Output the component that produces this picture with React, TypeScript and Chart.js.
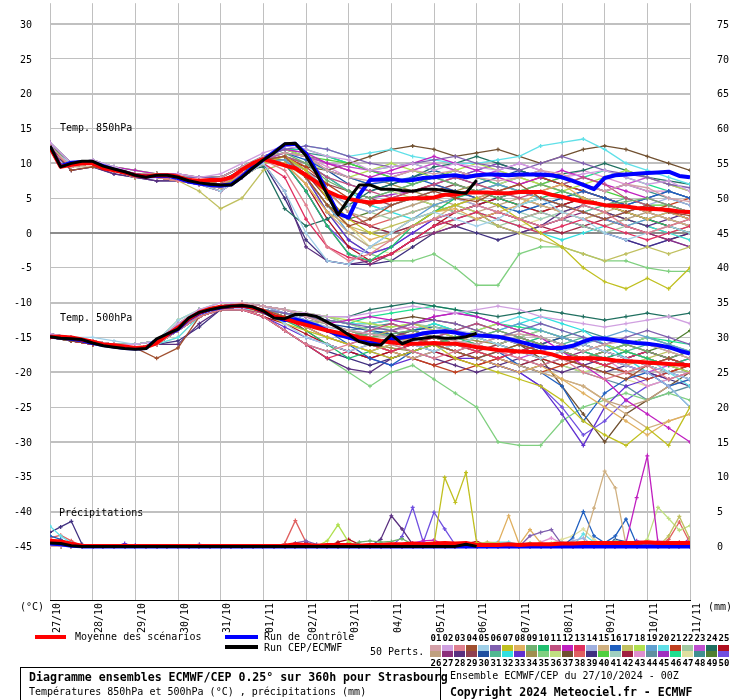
import React, { useEffect, useRef } from 'react';
import { Chart, registerables } from 'chart.js';
Chart.register(...registerables);

// ---------- axes / labels ----------
const dayLabels = ['27/10','28/10','29/10','30/10','31/10','01/11','02/11','03/11','04/11','05/11','06/11','07/11','08/11','09/11','10/11','11/11'];
const tempTicks = [30,25,20,15,10,5,0,-5,-10,-15,-20,-25,-30,-35,-40,-45];
const PRECIP_ZERO = -45; // 0 mm sits on the -45 °C line (right axis = left + 45)
const memberNumbers = ['01','02','03','04','05','06','07','08','09','10','11','12','13','14','15','16','17','18','19','20','21','22','23','24','25','26','27','28','29','30','31','32','33','34','35','36','37','38','39','40','41','42','43','44','45','46','47','48','49','50'];
const memberColors = ['#d4a0a8','#d0a0e0','#e08090','#a05030','#a0d0e8','#8060b0','#c0c020','#e0b060','#70b070','#20c070','#c05080','#c020c0','#e03060','#a0b0e0','#d0b080','#2060c0','#c0c060','#b0e050','#60a0d0','#60e0e8','#c04020','#a0c8a0','#c050d0','#207060','#b01020','#c0a080','#8c2f7a','#5a3080','#904050','#2050a0','#50b890','#30e0e0','#6030d0','#a09050','#80d080','#c0e080','#705030','#e06060','#403080','#50d040','#a0d0c0','#a02040','#e090d0','#6090a0','#a030c0','#20e090','#e0e0a0','#409090','#508030','#7050e0'];

// ---------- 6-hourly main runs ----------
const mean850 = [12.3,9.5,9.8,10.0,10.0,9.3,9.0,8.7,8.3,8.1, 8.3,8.3,8.1,7.6,7.5,7.6,7.6,8.0,9.1,10.0, 10.6,10.2,9.7,9.3,8.3,7.3,6.0,5.3,4.9,4.6, 4.4,4.5,4.8,4.9,5.0,5.0,5.1,5.5,5.5,5.8, 5.8,5.8,5.7,5.7,5.9,5.9,5.9,5.5,5.2,4.8, 4.5,4.3,4.0,3.9,3.8,3.6,3.5,3.4,3.3,3.1, 3.0];
const ctrl850 = [12.4,9.6,10.1,10.2,10.1,9.6,9.1,8.7,8.3,8.1, 8.2,8.2,7.9,7.4,7.1,6.9,6.8,7.0,8.1,9.4, 10.5,11.6,12.7,12.8,11.4,8.8,5.8,2.8,2.2,5.5, 7.6,7.7,7.8,7.5,7.6,7.9,8.0,8.2,8.3,8.0, 8.3,8.4,8.4,8.3,8.4,8.4,8.4,8.3,8.0,7.5, 6.9,6.3,7.9,8.3,8.4,8.5,8.6,8.7,8.8,8.2, 8.0];
const cep850 = [12.5,9.5,10.0,10.3,10.3,9.6,9.2,8.8,8.3,8.0, 8.3,8.3,8.0,7.5,7.2,7.0,6.9,6.9,8.0,9.3, 10.5,11.5,12.8,12.9,11.1,8.5,5.5,2.6,4.9,6.9, 6.9,6.3,6.3,6.1,6.0,6.3,6.3,6.1,5.9,5.7, 7.6];
const mean500 = [-14.9,-14.9,-15.0,-15.3,-15.6,-16.0,-16.1,-16.3,-16.5,-16.4, -15.8,-14.6,-13.6,-12.3,-11.4,-10.9,-10.6,-10.5,-10.4,-10.7, -11.2,-12.0,-12.3,-12.8,-13.2,-13.6,-14.0,-14.3,-14.6,-15.0, -15.2,-15.5,-15.7,-15.9,-15.9,-15.9,-15.8,-15.9,-15.9,-16.1, -16.4,-16.6,-16.8,-16.9,-17.0,-17.1,-17.1,-17.4,-17.9,-18.0, -18.0,-18.0,-18.1,-18.3,-18.4,-18.5,-18.6,-18.7,-18.8,-18.9, -19.0];
const ctrl500 = [-14.9,-15.0,-15.2,-15.4,-15.8,-16.1,-16.3,-16.5,-16.6,-16.5, -15.4,-14.6,-13.8,-12.4,-11.5,-11.0,-10.7,-10.5,-10.5,-10.7, -11.3,-12.0,-12.5,-12.4,-12.8,-13.3,-14.0,-14.6,-15.0,-15.4, -15.8,-15.7,-15.2,-15.0,-14.8,-14.4,-14.2,-14.1,-14.3,-14.6, -14.7,-14.8,-14.9,-15.2,-15.6,-16.0,-16.4,-16.5,-16.5,-16.2, -15.6,-15.1,-15.2,-15.4,-15.6,-15.8,-15.9,-16.1,-16.4,-16.9, -17.3];
const cep500 = [-14.9,-15.1,-15.2,-15.3,-15.8,-16.2,-16.4,-16.6,-16.7,-16.6, -15.2,-14.5,-13.8,-12.2,-11.4,-11.0,-10.7,-10.5,-10.4,-10.6, -11.2,-12.2,-12.3,-11.7,-11.7,-12.0,-12.8,-13.6,-14.6,-15.6, -16.0,-16.1,-14.6,-15.9,-15.3,-15.1,-14.9,-15.1,-15.1,-14.9, -14.4];
const meanPrecip = [0.8,0.7,0.4,0.1,0.05,0.05,0.05,0.05,0.05,0.05, 0.05,0.05,0.05,0.05,0.05,0.05,0.05,0.05,0.05,0.05, 0.05,0.05,0.1,0.3,0.2,0.1,0.2,0.2,0.2,0.1, 0.2,0.2,0.3,0.3,0.4,0.3,0.4,0.5,0.4,0.5, 0.2,0.2,0.2,0.3,0.2,0.3,0.3,0.3,0.4,0.4, 0.5,0.5,0.5,0.5,0.5,0.5,0.6,0.5,0.5,0.5, 0.5];
const ctrlPrecip = [0.4,0.3,0.1,0,0,0,0,0,0,0, 0,0,0,0,0,0,0,0,0,0, 0,0,0,0,0,0,0,0,0,0, 0,0,0,0,0,0,0,0,0,0, 0,0,0,0,0,0,0,0,0,0, 0,0,0,0,0,0,0,0,0,0, 0];
const cepPrecip = [0.5,0.4,0.1,0,0,0,0,0,0,0, 0,0,0,0,0,0,0,0,0,0, 0,0,0,0,0,0,0,0,0,0, 0,0,0,0,0,0,0,0,0,0.3, 0];

// ---------- 12-hourly perturbations, 850 hPa ----------
const pert850: number[][] = [
[12.5,9.5,10,9,8.5,8.5,8,7.5,8,9.5,11,11.5,11,9,8,7.5,8,9,8.5,9,8,7.5,8,9,8.5,7,6,7,6.5,5,4.5],
[13,10,10.5,9.5,8.5,8,8.5,8,8.5,10,11.5,12.5,12,11,10.5,9,9.5,10,9,10,9.5,9,10,9,8,8.5,9,8,7,7.5,6],
[12,9.5,10,9,8,8,7.5,7,7,8.5,10.5,9,4,-2,-4,-3,-1,1,2,3,4,3,2,1,2,4,3,1,0,1,2],
[12.5,9,9.5,9,8.5,8.5,8,7.5,7,9,10.5,11,8,4,1,2,4,5,6,5,4.5,6,7,5,4,3,2,3,4,3,2.5],
[12,10,10.5,9.5,8.5,8,8,7,6,8,10,6,0,-4,-4.5,-2,0,2,3,2,1,2,4,5,3,2,0,-1,0,1,0],
[13,10,10,9,8.5,8,8,8,8,9.5,11,12,12.5,12,11,10,9.5,10,10.5,11,10,9.5,9,10,11,10,9,8.5,8,7,6.5],
[12.5,9.5,10,9,8,8,8,7.5,7,8,10,11,9,5,2,0,-1,1,3,4,5,4,2,0,-2,-5,-7,-8,-6.5,-8,-5],
[12,9.5,10,9,8,8,7.5,7,6.5,8.5,10.5,10,7,3,1,-1,0,2,3,3.5,2,3,4,6,7,5,4,3,2,3,2],
[12.5,10,10,9,8.5,8.5,8,8,8,9.5,11,11.5,10,7.5,6,5,6,7,8,7,6,5,6,7,6,5,4,4.5,5,4,3],
[12,9.5,10,9,8,8.5,8,7.5,7.5,9,10.5,10,6,1,-3,-4,-2,1,3,5,6,5,4,5,6,5,4,3,2,1,0],
[12.5,9.5,10,9,8.5,8,8,7.5,7,8.5,10.5,11,10,8,7,6,5,6,7,8,7,6,5,6,7,8,7,5,4,3,2],
[13,10,10.5,9.5,9,8.5,8.5,8,8,9.5,11,12,11.5,10,9,8,9,10,11,10,9,8,7,8,9,8,7,6,5,4,3],
[12,9.5,10,9,8,8,7.5,7,6,8,10,8,2,-2,-3.5,-4,-3,-1,1,2,3,2,1,0,1,2,1,0,-1,0,1],
[12.5,9.5,10,9,8,8,8,7.5,7.5,9,10.5,11,9,6,4,3,4,5,6,5,4,3,4,5,4,3,2,3,4,5,4],
[12,9.5,9.5,9,8,8,7.5,7,6.5,8.5,10,10,7,3,0,-2,-1,1,2,4,5,6,5,4,3,2,3,4,3,2,1],
[12.5,10,10,9,8.5,8,8,7.5,7.5,9,11,11.5,10.5,9,8,7,7.5,8,7,6,5,4,3,4,5,6,5,4,5,6,5],
[12,9.5,10,9,8,8,7.5,6,3.5,5,9,10,8,4,1,0,1,2,3,4,3,1,0,-1,-2,-3,-4,-3,-2,-3,-2],
[13,10,10.5,9.5,9,8.5,8.5,8,8,9.5,11,12,11,9,8,9,10,9,8,9,10,9,8,7,6,7,8,9,8,7,6],
[12.5,9.5,10,9,8.5,8,8,7.5,7,8.5,10.5,10.5,8,4,0,-2,0,2,4,5,6,7,6,5,4,3,2,1,2,3,2],
[12,9.5,10,9,8,8,8,7.5,7.5,9,11,12,12.5,12,11,11.5,12,11,10.5,10,10,10.5,11,12.5,13,13.5,12,10,9,8,7],
[12.5,10,10,9,8.5,8.5,8,7.5,7.5,9,10.5,11,9.5,7,5,4,5,6,7,6,5,6,7,8,7,6,5,4,3,4,5],
[12,9.5,10,9,8,8,7.5,7,6.5,8,10,10.5,9,6,4,3,2,3,4,3,2,1,2,3,2,1,0,1,2,3,2],
[12.5,9.5,10,9,8.5,8,8,7.5,7.5,9,10.5,11.5,11,10,9.5,9,8.5,9,10,9,8,9,10,9,8,7,6,7,8,7,6],
[13,10,10,9,8.5,8.5,8,7.5,7.5,9,9.5,3.5,1,2,4,6,7,8,9.5,10,11,10,9,8,8.5,9,10,9,8,7.5,7],
[12,9.5,10,9,8,8,7.5,7,7,8.5,10,10,7,2,-2,-4,-3,-1,1,3,4,5,4,3,4,5,4,3,2,1,0],
[12.5,9.5,10,9,8.5,8,8,7.5,7,8.5,10.5,11,9,6,3,2,3,4,5,4,3,4,5,4,3,2,1,2,3,2,1],
[12,9.5,10,9,8,8,7.5,7,6.5,8,10,10,6,1,-3,-4.5,-3,-1,0,1,2,3,2,1,2,3,2,1,0,-1,-2],
[12.5,9,9.5,8.5,8,7.5,7.5,7,6.5,8,10,6,-2,-4,-4.5,-4,-3,-1,1,2,3,1,0,1,3,4,3,2,1,2,3],
[12,9.5,10,9,8,8,7.5,7,7,8.5,10,10.5,9,7,6,5,4,5,6,7,6,5,4,3,4,5,4,3,2,1,2],
[12.5,10,10,9,8.5,8.5,8,8,8,9.5,11,12,11,9,7,6,7,8,9,8,7,8,9,8,7,6,5,4,5,6,5],
[12,9.5,10,9,8,8,8,7.5,7.5,9,10.5,11,10,8,6,5,6,7,8,9,8,7,6,5,4,3,4,5,4,3,2],
[12.5,9.5,10,9,8,8,7.5,7,7,8.5,10.5,11,10,8,6,4,3,2,3,4,3,2,1,0,-1,0,1,2,1,0,-1],
[12,9.5,10,9,8.5,8,8,7.5,7,8.5,10,10.5,8,3,-1,-3,-2,0,2,3,4,5,6,5,4,3,2,3,4,3,2],
[12.5,10,10,9,8.5,8.5,8,7.5,7.5,9,10.5,11.5,11,10,9,8,7,6,5,6,7,6,5,4,3,2,3,2,1,0,1],
[12,9.5,10,9,8,8,7.5,7,6.5,8.5,10,10,8,3,-1,-3,-4,-4,-3,-5,-7.5,-7.5,-3,-2,-2,-3,-4,-4,-5,-5.5,-5.5],
[12.5,9.5,10,9,8.5,8,8,7.5,7.5,9,10.5,11,10,9,8,7,6,5,4,5,6,7,8,7,6,5,4,3,2,3,2],
[12,9.5,10,9,8,8,7.5,7,7,8.5,10,10.5,9.5,9,10,11,12,12.5,12,11,11.5,12,11,10,11,12,12.5,12,11,10,9],
[12.5,9.5,10,9,8,8,8,7.5,7,8.5,10.5,11,9,6,3,1,2,3,4,5,4,3,2,3,4,3,2,1,0,1,0],
[12,9,9.5,8.5,8,7.5,7.5,7,6,8,10,5,-1,-4,-4.5,-4.5,-4,-2,0,1,0,-1,0,1,2,1,0,-1,-2,-1,0],
[12.5,10,10,9,8.5,8.5,8,8,8,9.5,11,11.5,11,10.5,10,9,8,7,8,9,8,7,6,7,8,7,6,5,4,4,3],
[12,9.5,10,9,8,8,7.5,7,7,8.5,10.5,11,10,7,5,4,3,4,5,6,5,4,3,2,3,4,3,2,3,4,3],
[12.5,9.5,10,9,8.5,8,8,7.5,7,9,10.5,10.5,8.5,5,2,1,0,1,2,1,2,3,2,1,0,1,2,1,0,-1,0],
[12,9.5,10,9,8,8,8,7.5,7.5,9,10.5,11.5,11,9.5,8,7,8,9,10,9,8,9,8,7,8,9,8,7,6,6,5],
[12.5,9.5,10,9,8,8,7.5,7,6.5,8,10,10.5,9,6,3,1,0,1,3,4,5,4,3,4,5,6,5,4,3,2,1],
[12,9.5,10,9,8.5,8,8,7.5,7,8.5,10.5,11,10,8,6,5,5.5,6,7,8,9,10,9,8,7,6,5,4,3,2,1],
[13,10,10.5,9.5,9,8.5,8.5,8,8,9.5,11,12,12,11,10,9,9.5,10,9,8,9,10,9,8,7,8,9,8,7,6,5],
[12.5,9.5,10,9,8,8,8,7,6.5,8.5,10.5,11,9,5,1,-2,-3,-2,0,2,3,2,1,2,3,4,3,2,1,0,-1],
[12,9.5,10,9,8.5,8,8,7.5,7.5,9,11,12,11.5,11,10,9,8,9,8,7,6,7,8,9,8,7,6,7,6,5,4],
[12.5,9.5,10,9,8,8,7.5,7,7,8.5,10.5,10.5,8,4,2,3,4,5,4,3,4,5,6,5,4,5,4,3,4,3,2],
[12,9.5,10,9,8,8,7.5,7,6.5,8.5,10.5,10,6,1,-2,-3,-2,0,2,3,4,3,2,3,2,1,0,-1,-2,-1,-2],
];

// ---------- 12-hourly perturbations, 500 hPa ----------
const pert500: number[][] = [
[-15,-15,-15.5,-16,-16.5,-16,-14,-11.5,-10.5,-10,-10.5,-11,-12,-13,-14,-14.5,-15,-14.5,-15,-15.5,-16,-15,-14.5,-15,-16,-17,-16,-15.5,-16,-17,-18],
[-14.5,-15,-15.5,-16,-16,-15.5,-13,-11,-10,-10,-10.5,-11,-11.5,-12,-12,-11.5,-11,-10.5,-11,-11.5,-11,-10.5,-11,-12,-12.5,-13,-13.5,-13,-12.5,-12,-13],
[-15,-15,-15.5,-16,-16.5,-16,-14,-12,-11,-11,-12,-14,-16,-17,-16,-15,-16,-17,-18,-17,-16,-17,-18,-19,-18,-20,-21,-20,-19,-21,-20],
[-15,-15.5,-16,-16,-16.5,-18,-16.5,-12,-11,-10.5,-11,-12,-13,-14,-15,-16,-15.5,-15,-16,-17,-18,-17,-16,-17,-18,-19,-20,-21,-19,-18,-19],
[-14.5,-15,-15,-15.5,-16,-15.5,-12.5,-11,-10,-10,-11,-13,-15,-16,-17,-16,-15,-16,-17,-16,-15,-16,-17,-18,-17,-16,-17,-18,-19,-20,-21],
[-15,-15,-15.5,-16,-16.5,-16,-14,-12,-11,-10.5,-11,-11.5,-12,-12.5,-13,-13.5,-14,-13,-12.5,-13,-14,-15,-14,-13,-14,-15,-16,-15,-14,-15,-16],
[-15,-15,-15.5,-16,-16.5,-16,-14,-11.5,-10.5,-10.5,-11.5,-13,-14,-15,-16,-17,-18,-17,-16,-18,-19,-20,-21,-22,-24,-27,-29,-30.5,-28,-30.5,-25],
[-14.5,-15,-15.5,-16,-16.5,-16,-14,-12,-11,-10.5,-11,-12,-13.5,-15,-16,-17,-16,-15,-16,-17,-18,-19,-20,-19,-21,-23,-25,-27,-29,-27,-26],
[-15,-15,-15.5,-16,-16,-15.5,-13,-11,-10.5,-10,-10.5,-11,-12,-13,-14,-15,-14.5,-14,-15,-16,-15,-14,-15,-16,-17,-18,-17,-16,-17,-18,-17],
[-15,-15.5,-15.5,-16,-16.5,-16,-14,-11.5,-10.5,-10.5,-11,-12.5,-14,-16,-18,-17,-16,-17,-16,-15,-16,-17,-16,-15,-16,-17,-18,-17,-18,-19,-18],
[-15,-15,-15.5,-16,-16.5,-16,-14,-12,-11,-11,-11.5,-12,-13,-14,-15,-14,-13,-14,-15,-14,-13,-14,-15,-16,-17,-16,-17,-18,-19,-18,-19],
[-14.5,-15,-15.5,-16,-16.5,-16,-13,-11.5,-10.5,-10,-10.5,-11,-12,-13,-12.5,-12,-12.5,-13,-12,-11.5,-12,-13,-14,-15,-17,-19,-21,-24,-26,-28,-30],
[-15,-15.5,-16,-16,-16.5,-16,-14,-12,-11,-11,-12,-14,-16,-18,-17,-16,-17,-16,-15,-16,-17,-18,-17,-16,-17,-18,-19,-18,-17,-18,-19],
[-15,-15,-15.5,-16,-16,-15.5,-13.5,-11,-10.5,-10,-10.5,-11.5,-12.5,-13.5,-14,-14.5,-15,-15.5,-15,-14,-14.5,-15,-16,-15,-16,-17,-18,-19,-20,-22,-25],
[-15,-15,-15.5,-16,-16.5,-16,-14,-12,-11,-10.5,-11,-12,-13,-14,-15,-16,-17,-18,-17,-16,-17,-18,-19,-20,-21,-22,-24,-26,-28,-27,-26],
[-14.5,-15,-15.5,-16,-16.5,-16,-14,-11.5,-10.5,-10.5,-11,-12,-13,-14,-16,-18,-19,-17,-16,-17,-18,-17,-19,-20,-22,-27,-23,-21,-20,-22,-21],
[-15,-15,-15.5,-16,-16.5,-16,-14,-12,-11,-11,-11.5,-12,-12.5,-13,-14,-15,-14,-13,-14,-15,-16,-15,-14,-15,-16,-17,-18,-19,-18,-17,-18],
[-15,-15,-15.5,-16,-16,-15.5,-12.5,-11,-10,-10,-10.5,-11,-11.5,-12,-12.5,-13,-13.5,-13,-14,-15,-14,-13,-14,-15,-16,-17,-16,-17,-18,-19,-20],
[-14.5,-15,-15.5,-16,-16.5,-16,-14,-11.5,-10.5,-10.5,-11,-12,-13,-14,-15,-14,-15,-16,-17,-16,-15,-14,-13,-14,-15,-16,-15,-14,-15,-16,-17],
[-15,-15,-15.5,-16,-16.5,-16,-15,-12,-11,-11,-11,-11.5,-12,-12.5,-13,-13,-12.5,-13,-14,-15,-14,-13,-12,-13,-14,-15,-16,-17,-18,-20,-22],
[-15,-15.5,-16,-16,-16.5,-16,-14,-12,-11,-10.5,-11,-12,-13,-14,-15,-16,-17,-18,-19,-20,-19,-18,-19,-20,-19,-18,-19,-20,-21,-20,-19],
[-15,-15,-15.5,-16,-16.5,-16,-13.5,-11,-10.5,-10,-10.5,-11,-11.5,-12,-13,-14,-13.5,-13,-13.5,-14,-15,-16,-15,-14,-15,-16,-17,-16,-15,-16,-17],
[-14.5,-15,-15.5,-16,-16.5,-16,-14,-11.5,-10.5,-10,-10.5,-11,-12,-13,-14,-15,-16,-15,-14,-15,-16,-17,-18,-17,-16,-17,-18,-19,-20,-19,-18],
[-15,-15,-15.5,-16,-16,-15.5,-13.5,-11,-10.5,-10.5,-11,-11.5,-12,-12,-12,-11,-10.5,-10,-10.5,-11,-11.5,-12,-11.5,-11,-11.5,-12,-12.5,-12,-11.5,-12,-11.5],
[-15,-15.5,-16,-16,-16.5,-16,-14,-12,-11,-11,-12,-13,-14.5,-16,-17,-18,-17,-16,-17,-18,-19,-18,-17,-18,-19,-18,-17,-18,-19,-20,-19],
[-15,-15,-15.5,-16,-16.5,-16,-14,-11.5,-10.5,-10.5,-11,-12,-13,-14,-15,-16,-17,-16,-15,-16,-17,-18,-19,-20,-21,-22,-24,-25,-24,-22,-21],
[-14.5,-15,-15.5,-16,-16.5,-16,-14,-12,-11,-10.5,-11,-12,-13.5,-15,-16,-15,-14,-15,-16,-17,-16,-15,-16,-17,-18,-17,-16,-17,-18,-19,-18],
[-15,-15,-15.5,-16,-16.5,-16,-16,-13,-11,-11,-12,-14,-16,-18,-19.5,-20,-18,-17,-18,-19,-20,-19,-18,-19,-20,-19,-18,-17,-18,-19,-20],
[-15,-15,-15.5,-16,-16,-15.5,-13.5,-11,-10.5,-10.5,-11,-12,-13,-14,-15,-16,-15,-14,-15,-16,-17,-16,-15,-16,-17,-18,-19,-20,-19,-18,-19],
[-15,-15.5,-16,-16,-16.5,-16,-14,-11.5,-10.5,-10,-10.5,-11.5,-12.5,-13,-13.5,-14,-14.5,-14,-13.5,-14,-15,-16,-17,-16,-15,-16,-17,-18,-17,-18,-19],
[-15,-15,-15.5,-16,-16.5,-16,-14,-12,-11,-10.5,-11,-12,-13,-14,-15,-14.5,-14,-15,-16,-15,-14,-15,-16,-17,-16,-15,-16,-17,-16,-17,-18],
[-14.5,-15,-15.5,-16,-16.5,-16,-14,-11.5,-10.5,-10.5,-11,-12,-13,-14,-15,-16,-15,-14,-13,-14,-15,-14,-13,-12,-13,-14,-16,-18,-20,-22,-25],
[-15,-15,-15.5,-16,-16.5,-16,-14,-12,-11,-11,-12,-13.5,-15,-16,-17,-18,-19,-18,-17,-18,-18,-19,-20,-22,-26,-30.5,-25,-22,-21,-20,-21],
[-15,-15.5,-16,-16,-16.5,-16,-14,-12,-11,-10.5,-11,-12,-13,-14,-15,-16,-16.5,-17,-16,-15,-15.5,-16,-17,-16,-15,-16,-17,-18,-19,-20,-19],
[-15,-15,-15.5,-16,-16.5,-16,-14,-12,-11,-11,-12,-14,-16,-18,-20,-22,-20,-19,-21,-23,-25,-30,-30.5,-30.5,-27,-25,-24,-23,-24,-23,-24],
[-15,-15,-15.5,-16,-16,-15.5,-13.5,-11,-10.5,-10.5,-11,-11.5,-12.5,-13.5,-14,-15,-15.5,-16,-15,-14,-15,-16,-17,-18,-19,-20,-19,-18,-19,-20,-21],
[-15,-15.5,-16,-16,-16.5,-16,-14,-12,-11,-10.5,-11,-11.5,-12,-12.5,-13,-13,-12.5,-12,-12.5,-13,-14,-15,-16,-18,-22,-26,-30,-26,-24,-22,-20],
[-14.5,-15,-15.5,-16,-16.5,-16,-14,-11.5,-10.5,-10.5,-11,-12,-13,-14,-15,-16,-17,-16,-15,-16,-17,-16,-15,-16,-17,-18,-17,-16,-17,-18,-19],
[-15,-15,-15.5,-16,-16.5,-16,-15.5,-13.5,-11,-11,-12,-14,-16,-17,-18,-19,-18,-17,-16,-17,-18,-19,-20,-19,-18,-19,-20,-19,-20,-21,-22],
[-15,-15,-15.5,-16,-16,-15.5,-13.5,-11,-10.5,-10,-10.5,-11,-11.5,-12,-13,-14,-15,-14,-13,-14,-15,-16,-15,-14,-15,-16,-17,-16,-15,-16,-17],
[-15,-15.5,-16,-16,-16.5,-16,-14,-11.5,-10.5,-10.5,-11,-12,-13,-14,-15,-16,-17,-18,-17,-16,-17,-18,-17,-16,-17,-18,-19,-20,-21,-20,-19],
[-15,-15,-15.5,-16,-16.5,-16,-14,-12,-11,-10.5,-11,-12,-14,-16,-17,-18,-17,-18,-19,-18,-17,-18,-19,-18,-17,-18,-19,-18,-17,-18,-17],
[-14.5,-15,-15.5,-16,-16.5,-16,-14,-11.5,-10.5,-10.5,-11,-11.5,-12,-13,-14,-14.5,-14,-13.5,-14,-15,-14,-13,-14,-15,-16,-17,-18,-20,-22,-21,-20],
[-15,-15,-15.5,-16,-16.5,-16,-14,-12,-11,-10.5,-11,-12,-13,-14,-15,-16,-17,-16,-15,-16,-17,-18,-19,-18,-19,-20,-21,-22,-24,-23,-22],
[-15,-15.5,-16,-16,-16.5,-16,-13,-11.5,-10.5,-10,-10.5,-11,-12,-13,-14,-15,-14,-13,-12,-11.5,-12,-13,-14,-15,-16,-17,-18,-19,-20,-21,-20],
[-15,-15,-15.5,-16,-16,-15.5,-13.5,-11,-10.5,-10.5,-11,-11.5,-12,-12.5,-13,-12,-11.5,-11,-10.5,-11,-12,-13,-13.5,-14,-15,-16,-17,-16,-15,-15.5,-16],
[-15,-15,-15.5,-16,-16.5,-16,-15,-12,-11,-11,-11.5,-12.5,-14,-15,-16,-17,-16,-15,-16,-17,-18,-17,-16,-17,-18,-19,-20,-21,-22,-21,-20],
[-14.5,-15,-15.5,-16,-16.5,-16,-14,-11.5,-10.5,-10.5,-11,-11.5,-12,-13,-14,-13.5,-13,-14,-15,-14,-13,-14,-15,-16,-15,-14,-15,-16,-17,-18,-17],
[-15,-15,-15.5,-16,-16.5,-16,-14,-12,-11,-10.5,-11,-12,-13,-14,-15,-16,-15,-14,-15,-16,-17,-18,-17,-16,-17,-18,-19,-18,-17,-16,-14],
[-15,-15.5,-16,-16,-16.5,-16,-14,-11.5,-10.5,-10.5,-11,-12,-13.5,-15,-16,-17,-18,-17,-16,-17,-18,-19,-20,-22,-25,-29,-27,-24,-22,-21,-20],
];

// ---------- precipitation of the perturbations: [member, 6h step, mm] (dry otherwise) ----------
const precipEvents: [number, number, number][] = [
[39,0,2],[39,1,2.8],[39,2,3.6],[39,3,0.3],[20,0,2.9],[20,1,1.5],[20,2,0.5],[38,0,1.2],[38,1,1.6],[38,2,0.8],
[16,0,1.5],[16,1,1],[16,2,0.3],[3,0,1],[3,1,0.6],[9,0,0.8],[9,1,0.4],[23,0,0.6],[23,1,0.8],[23,2,0.3],
[6,1,0.5],[6,2,0.2],[45,0,0.7],[45,1,0.4],[12,0,0.5],[33,7,0.4],[50,8,0.2],[6,14,0.3],
[38,22,0.4],[38,23,3.7],[38,24,0.6],[6,23,0.5],[6,24,0.8],[6,25,0.3],[27,24,0.5],[21,23,0.3],
[18,26,0.8],[18,27,3.1],[18,28,0.6],[25,27,0.6],[25,28,1.0],[25,29,0.3],[42,28,0.5],
[9,29,0.6],[9,30,0.8],[9,31,0.6],[9,32,0.7],[9,33,1.1],[9,34,0.3],
[28,31,1],[28,32,4.4],[28,33,2.5],[28,34,0.3],
[50,33,1.4],[50,34,5.6],[50,35,0.6],[50,36,4.9],[50,37,2.5],[50,38,0.2],
[7,36,0.3],[7,37,9.9],[7,38,6.3],[7,39,10.6],[7,40,0.5],
[12,34,0.5],[12,35,0.8],[12,36,0.9],[12,37,0.3],[25,39,0.4],[25,40,0.7],[25,41,0.2],
[17,40,0.4],[17,41,0.6],[17,42,0.5],[20,41,0.5],[20,42,0.6],[20,43,0.6],[20,44,0.3],[32,42,0.5],[32,43,0.4],
[8,42,0.5],[8,43,4.4],[8,44,0.3],[8,45,2.4],[8,46,0.5],
[6,45,1.5],[6,46,2.0],[6,47,2.4],[6,48,0.3],[43,46,0.6],[43,47,1.2],[43,48,0.4],
[47,47,0.5],[47,48,1.0],[47,49,1.5],[47,50,2.5],[47,51,1],
[16,49,1.2],[16,50,5],[16,51,1.5],[16,52,0.5],[16,53,1.5],[16,54,3.9],[16,55,0.3],
[15,50,0.3],[15,51,5.5],[15,52,10.8],[15,53,8.4],[15,54,0.2],
[12,54,0.5],[12,55,7],[12,56,13],[12,57,0.5],
[36,56,1],[36,57,5.6],[36,58,4],[36,59,2.3],[36,60,3],[17,58,1.5],[17,59,4.3],[17,60,1],[38,58,1],[38,59,3.5],[38,60,0.5],
[20,50,1.8],[20,51,0.6],[14,49,0.8],[14,50,1.2],[30,53,1.0],[30,54,0.7],[45,55,0.8],[45,56,0.6],[45,60,1.2],
[41,48,0.6],[41,49,0.4],[35,44,0.3],[35,45,0.5],[22,53,0.8],[22,54,0.5],[43,57,0.8],[43,58,0.7],
[1,38,0.3],[2,44,0.2],[3,46,0.3],[4,50,0.4],[5,52,0.3],[10,55,0.4],[11,57,0.5],[13,59,0.6],[19,48,0.4],[24,58,0.5],
[26,51,0.4],[29,60,0.6],[31,56,0.3],[34,53,0.5],[37,49,0.3],[40,58,0.4],[44,54,0.6],[46,59,0.5],[48,52,0.4],[49,57,0.3],
];

const STEP_MAIN = 6;   // hours between values of the main runs
const STEP_PERT = 12;  // hours between values of the perturbation temperatures
const N_STEPS_6H = 61;

function toPoints(values: number[], stepH: number, shift = 0) {
  return values.map((v, i) => ({ x: i * stepH, y: v + shift }));
}

function buildDatasets() {
  const sets: any[] = [];
  const pertStyle = (c: string) => ({
    borderColor: c, backgroundColor: c, borderWidth: 1.3, pointStyle: 'cross', pointRadius: 2,
    pointBorderColor: c, pointBorderWidth: 1.2, pointHoverRadius: 0, tension: 0, order: 5,
  });
  pert850.forEach((vals, m) => sets.push({ data: toPoints(vals, STEP_PERT), ...pertStyle(memberColors[m]) }));
  pert500.forEach((vals, m) => sets.push({ data: toPoints(vals, STEP_PERT), ...pertStyle(memberColors[m]) }));
  const precipTable: number[][] = memberColors.map(() => new Array(N_STEPS_6H).fill(0));
  precipEvents.forEach(([m, j, mm]) => { precipTable[m - 1][j] = mm; });
  precipTable.forEach((vals, m) => sets.push({ data: toPoints(vals, STEP_MAIN, PRECIP_ZERO), ...pertStyle(memberColors[m]) }));

  const main = (vals: number[], color: string, width: number, order: number, shift = 0) => ({
    data: toPoints(vals, STEP_MAIN, shift), borderColor: color, backgroundColor: color, borderWidth: width,
    pointRadius: 0, pointHoverRadius: 0, tension: 0, order, borderJoinStyle: 'round',
  });
  sets.push(main(ctrl850, '#0000ff', 4, 2));
  sets.push(main(ctrl500, '#0000ff', 4, 2));
  sets.push(main(ctrlPrecip, '#0000ff', 4, 2, PRECIP_ZERO));
  sets.push(main(mean850, '#ff0000', 4, 1));
  sets.push(main(mean500, '#ff0000', 4, 1));
  sets.push(main(meanPrecip, '#ff0000', 4, 1, PRECIP_ZERO));
  sets.push(main(cep850, '#000000', 3, 0));
  sets.push(main(cep500, '#000000', 3, 0));
  sets.push(main(cepPrecip, '#000000', 3, 0, PRECIP_ZERO));
  return sets;
}

const MONO = '"DejaVu Sans Mono", monospace';

function Txt(props: { s: string; left: number; cy: number; size: number; bold?: boolean }) {
  const lh = Math.round(props.size * 1.2);
  return (
    <div style={{ position: 'absolute', left: props.left, top: props.cy - lh / 2, fontFamily: MONO, fontSize: props.size,
      lineHeight: `${lh}px`, fontWeight: props.bold ? 'bold' : 'normal', whiteSpace: 'pre', color: '#000' }}>{props.s}</div>
  );
}

export default function App() {
  const ref = useRef<HTMLCanvasElement>(null);
  useEffect(() => {
    const canvas = ref.current;
    if (!canvas) return;
    const yCommon = { type: 'linear', min: -52.7, max: 33 };
    const chart = new Chart(canvas, {
      type: 'line',
      data: { datasets: buildDatasets() },
      options: {
        responsive: false, animation: false, devicePixelRatio: 1, events: [],
        layout: { padding: 0 },
        plugins: { legend: { display: false }, tooltip: { enabled: false } },
        scales: {
          x: {
            type: 'linear', min: 0, max: 360, position: 'bottom',
            afterBuildTicks: (s: any) => { s.ticks = dayLabels.map((_, i) => ({ value: i * 24 })); },
            ticks: {
              callback: (v: any) => dayLabels[Math.round(Number(v) / 24)],
              minRotation: 90, maxRotation: 90, autoSkip: false, color: '#000',
              font: { size: 10, family: MONO }, padding: 3, labelOffset: 7,
            },
            grid: { color: '#c0c0c0', lineWidth: 1, drawTicks: false },
            border: { display: true, color: '#000', width: 1 },
            afterFit: (s: any) => { s.height = 100; s.paddingLeft = 0; s.paddingRight = 0; },
          },
          y: {
            ...yCommon, position: 'left',
            afterBuildTicks: (s: any) => { s.ticks = tempTicks.map(v => ({ value: v })); },
            ticks: { color: '#000', font: { size: 10, family: MONO }, padding: 18, labelOffset: 1 },
            grid: {
              drawTicks: false,
              color: (c: any) => (c.tick && c.tick.value === 0 ? '#8c8c8c' : '#c0c0c0'),
              lineWidth: (c: any) => (c.tick && c.tick.value % 10 === 0 ? 2 : 1),
            },
            border: { display: false },
            afterFit: (s: any) => { s.width = 50; s.paddingTop = 0; s.paddingBottom = 0; },
          },
          y2: {
            ...yCommon, position: 'right',
            afterBuildTicks: (s: any) => { s.ticks = tempTicks.map(v => ({ value: v })); },
            ticks: { color: '#000', font: { size: 10, family: MONO }, padding: 19, labelOffset: 1,
              callback: (v: any) => String(Number(v) - PRECIP_ZERO) },
            grid: { display: false },
            border: { display: false },
            afterFit: (s: any) => { s.width = 50; s.paddingTop = 0; s.paddingBottom = 0; },
          },
        },
      } as any,
    } as any);
    return () => chart.destroy();
  }, []);

  const cols = memberColors.slice(0, 25);
  return (
    <div style={{ position: 'absolute', left: 0, top: 0, width: 740, height: 700, background: '#fff', overflow: 'hidden' }}>
      <canvas ref={ref} width={740} height={700} style={{ position: 'absolute', left: 0, top: 0, width: 740, height: 700 }} />
      <Txt s="Temp. 850hPa" left={60} cy={128} size={10} />
      <Txt s="Temp. 500hPa" left={60} cy={318} size={10} />
      <Txt s="Précipitations" left={59} cy={513} size={10} />
      <Txt s="(°C)" left={20} cy={607} size={10} />
      <Txt s="(mm)" left={708} cy={607} size={10} />
      <div style={{ position: 'absolute', left: 35, top: 635, width: 31, height: 4, background: '#ff0000' }} />
      <Txt s="Moyenne des scénarios" left={75} cy={637} size={10} />
      <div style={{ position: 'absolute', left: 225, top: 635, width: 33, height: 4, background: '#0000ff' }} />
      <Txt s="Run de contrôle" left={264} cy={637} size={10} />
      <div style={{ position: 'absolute', left: 225, top: 645, width: 33, height: 4, background: '#000' }} />
      <Txt s="Run CEP/ECMWF" left={264} cy={648} size={10} />
      <Txt s="50 Perts." left={370} cy={652} size={10} />
      {cols.map((c, i) => (
        <React.Fragment key={i}>
          <div style={{ position: 'absolute', left: 430 + 12 * i, top: 633, width: 12, textAlign: 'center', fontFamily: MONO,
            fontSize: 9, fontWeight: 'bold', lineHeight: '11px', color: '#000' }}>{memberNumbers[i]}</div>
          <div style={{ position: 'absolute', left: 430 + 12 * i, top: 645, width: 11, height: 6, background: c }} />
          <div style={{ position: 'absolute', left: 430 + 12 * i, top: 651, width: 11, height: 6, background: memberColors[i + 25] }} />
          <div style={{ position: 'absolute', left: 430 + 12 * i, top: 658, width: 12, textAlign: 'center', fontFamily: MONO,
            fontSize: 9, fontWeight: 'bold', lineHeight: '11px', color: '#000' }}>{memberNumbers[i + 25]}</div>
        </React.Fragment>
      ))}
      <div style={{ position: 'absolute', left: 20, top: 667, width: 419, height: 32, border: '1px solid #000' }} />
      <Txt s="Diagramme ensembles ECMWF/CEP 0.25° sur 360h pour Strasbourg" left={29} cy={677} size={11.6} bold />
      <Txt s="Températures 850hPa et 500hPa (°C) , précipitations (mm)" left={29} cy={692} size={10} />
      <Txt s="Ensemble ECMWF/CEP du 27/10/2024 - 00Z" left={450} cy={676} size={10} />
      <Txt s="Copyright 2024 Meteociel.fr - ECMWF" left={450} cy={692} size={11.5} bold />
    </div>
  );
}
